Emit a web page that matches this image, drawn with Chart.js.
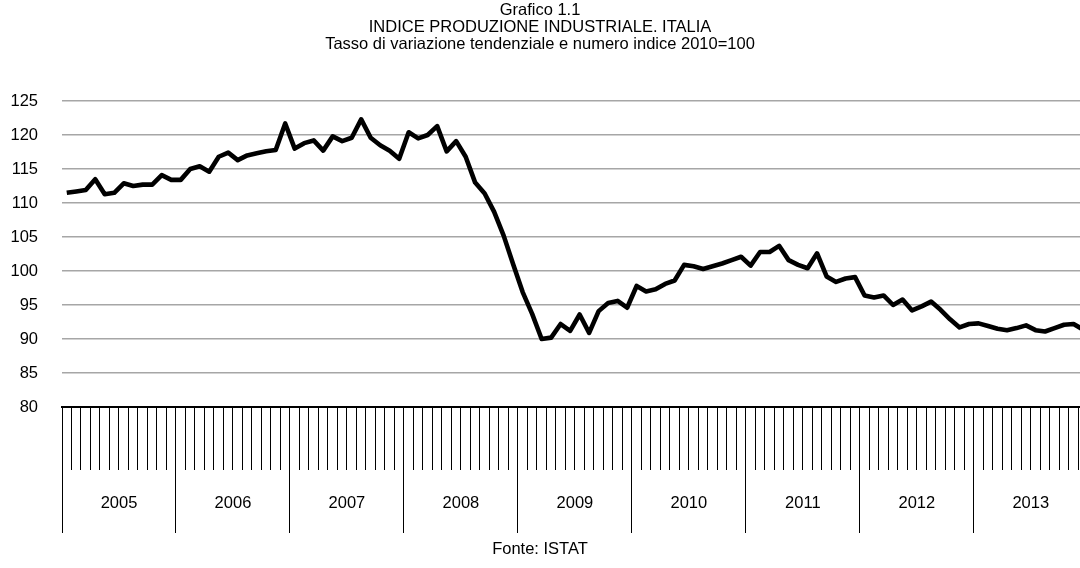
<!DOCTYPE html>
<html>
<head>
<meta charset="utf-8">
<script src="https://cdn.jsdelivr.net/npm/chart.js@4.4.1/dist/chart.umd.min.js"></script>
<style>
    html, body { margin: 0; padding: 0; background: #fff; overflow: hidden; }
</style>
</head>
<body>
<canvas id="prodChart" width="1080" height="568"></canvas>
<script>
// Indice produzione industriale, dati mensili
var years = ['2005', '2006', '2007', '2008', '2009', '2010', '2011', '2012', '2013'];
var prod2005 = [111.5, 111.7, 111.9, 113.5, 111.3, 111.5, 112.9, 112.5, 112.7, 112.7, 114.1, 113.4];
var prod2006 = [113.4, 115.0, 115.4, 114.6, 116.8, 117.4, 116.3, 117.0, 117.3, 117.6, 117.8, 121.7];
var prod2007 = [118.0, 118.8, 119.2, 117.7, 119.8, 119.1, 119.6, 122.3, 119.6, 118.5, 117.7, 116.5];
var prod2008 = [120.4, 119.5, 120.0, 121.3, 117.6, 119.1, 116.8, 113.0, 111.4, 108.7, 105.2, 101.0];
var prod2009 = [96.9, 93.7, 90.0, 90.2, 92.2, 91.2, 93.6, 90.9, 94.1, 95.3, 95.6, 94.6];
var prod2010 = [97.8, 97.0, 97.3, 98.1, 98.6, 100.9, 100.7, 100.3, 100.7, 101.1, 101.6, 102.1];
var prod2011 = [100.8, 102.8, 102.8, 103.7, 101.6, 100.9, 100.4, 102.6, 99.2, 98.4, 98.9, 99.1];
var prod2012 = [96.4, 96.1, 96.4, 95.0, 95.8, 94.2, 94.8, 95.5, 94.3, 92.9, 91.7, 92.2];
var prod2013 = [92.3, 91.9, 91.5, 91.3, 91.6, 92.0, 91.3, 91.1, 91.6, 92.1, 92.2, 91.4];
var yMin = 80, yMax = 125, yStep = 5;

var values = [].concat(prod2005, prod2006, prod2007, prod2008, prod2009,
                       prod2010, prod2011, prod2012, prod2013);

// the original picture is cut on the right, a bit before the end of 2013
var visibleMonths = 107.18;

// pick a narrow font if there is one
function hasFont(name) {
    var c = document.createElement('canvas').getContext('2d');
    c.font = '40px monospace';
    var a = c.measureText('INDICE 2010 abc').width;
    c.font = '40px "' + name + '", monospace';
    return c.measureText('INDICE 2010 abc').width !== a;
}
var family = 'Liberation Sans', size = 16.5;
if (hasFont('Liberation Sans Narrow')) { family = 'Liberation Sans Narrow'; size = 20; }
else if (hasFont('Arial Narrow')) { family = 'Arial Narrow'; size = 20; }
var font = { family: family, size: size, weight: 'normal' };

// month ticks, and year ticks (boundaries + label centres)
var monthTicks = [];
for (var m = 0; m < values.length; m++) {
    if (m - 0.5 <= visibleMonths - 0.5) monthTicks.push({ value: m - 0.5 });
}
var yearTicks = [];
years.forEach(function (y, k) {
    yearTicks.push({ value: k * 12 - 0.5, boundary: true, year: '' });
    yearTicks.push({ value: k * 12 + 5.5, boundary: false, year: y });
});

var ctx = document.getElementById('prodChart').getContext('2d');
var prodChart = new Chart(ctx, {
    type: 'line',
    data: {
        datasets: [{
            data: values.map(function (v, i) { return { x: i, y: v }; }),
            borderColor: '#000',
            borderWidth: 4.6,
            pointRadius: 0,
            tension: 0,
            borderJoinStyle: 'round',
            xAxisID: 'x',
            yAxisID: 'y'
        }]
    },
    options: {
        responsive: false,
        animation: false,
        layout: { padding: 0 },
        plugins: {
            legend: { display: false },
            tooltip: { enabled: false },
            title: {
                display: true,
                text: ['Grafico 1.1', 'INDICE PRODUZIONE INDUSTRIALE. ITALIA',
                       'Tasso di variazione tendenziale e numero indice 2010=100'],
                color: '#000',
                font: { family: family, size: size, weight: 'normal', lineHeight: '17px' },
                padding: { top: 2, bottom: 48 }
            },
            subtitle: {
                display: true,
                position: 'bottom',
                text: 'Fonte: ISTAT',
                color: '#000',
                font: { family: family, size: size, weight: 'normal', lineHeight: '24px' },
                padding: { top: 4, bottom: 7 }
            }
        },
        scales: {
            x: {
                type: 'linear',
                position: 'bottom',
                min: -0.5,
                max: visibleMonths - 0.5,
                afterBuildTicks: function (s) { s.ticks = monthTicks.slice(); },
                afterFit: function (s) { s.height = 63; },
                grid: { drawOnChartArea: false, tickLength: 63, color: '#000', tickColor: '#000', lineWidth: 1 },
                border: { display: true, color: '#000', width: 2 },
                ticks: { display: false }
            },
            xYear: {
                type: 'linear',
                position: 'bottom',
                min: -0.5,
                max: visibleMonths - 0.5,
                afterBuildTicks: function (s) { s.ticks = yearTicks.map(function (t) { return Object.assign({}, t); }); },
                afterFit: function (s) { s.height = 63; },
                grid: {
                    drawOnChartArea: false,
                    tickLength: 63,
                    lineWidth: 1,
                    color: '#000',
                    tickColor: function (c) { return c.tick && c.tick.boundary ? '#000' : 'rgba(0,0,0,0)'; }
                },
                border: { display: false },
                ticks: {
                    autoSkip: false,
                    maxRotation: 0,
                    padding: -39,
                    color: '#000',
                    font: font,
                    callback: function (v, i, t) { return t[i].year; }
                }
            },
            y: {
                min: yMin,
                max: yMax,
                afterFit: function (s) { s.width = 62; },
                grid: { color: '#a6a6a6', lineWidth: 1.5, drawTicks: false },
                border: { display: false },
                ticks: { stepSize: yStep, padding: 24, color: '#000', font: font }
            }
        }
    }
});
</script>
</body>
</html>
